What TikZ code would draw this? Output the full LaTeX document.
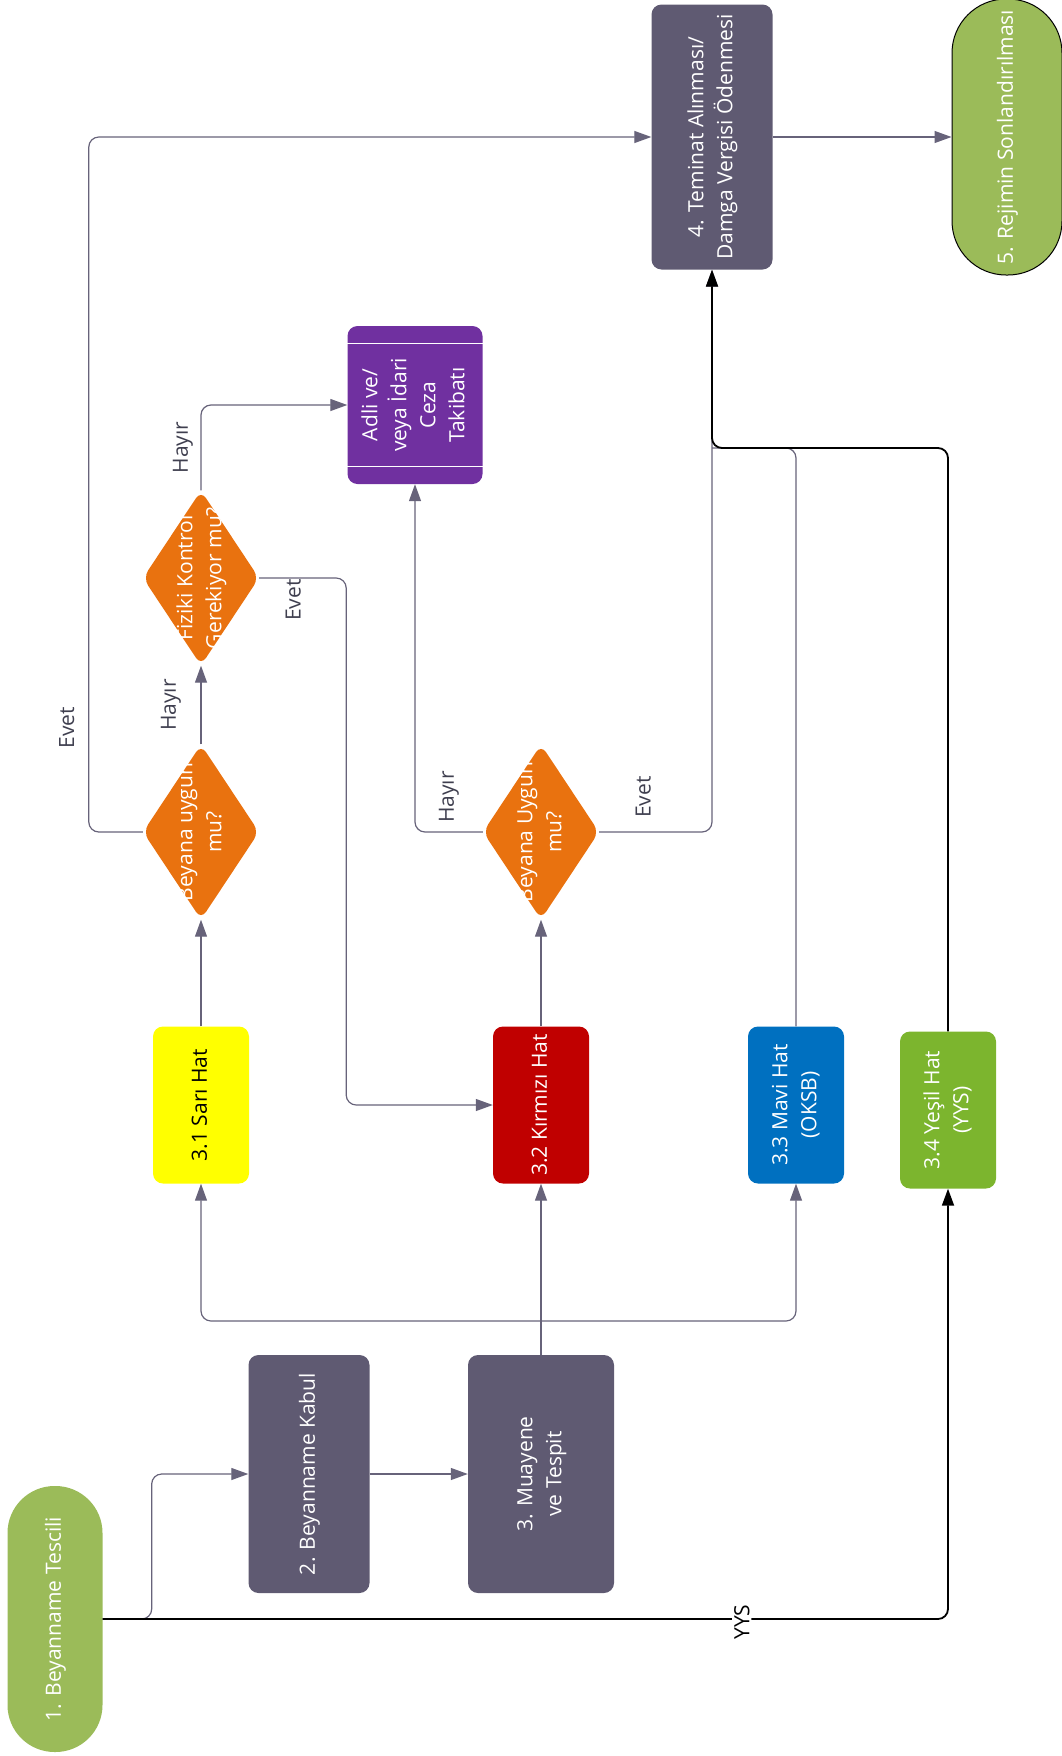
\documentclass[tikz,border=0pt]{standalone}
\usepackage{fontspec}
\setmainfont{Open Sans}
\usetikzlibrary{shapes.geometric,arrows.meta,calc}

\definecolor{termgreen}{HTML}{9BBB59}
\definecolor{procgray}{HTML}{5F5A72}
\definecolor{linegray}{HTML}{67637A}
\definecolor{lbltext}{HTML}{3F3F4F}
\definecolor{sariyellow}{HTML}{FFFF00}
\definecolor{hatred}{HTML}{C00000}
\definecolor{hatblue}{HTML}{0070C0}
\definecolor{hatgreen}{HTML}{7CB52E}
\definecolor{decorange}{HTML}{E9720F}
\definecolor{cezapurple}{HTML}{7030A0}

% rotated text, zero size, centred in its node
\newcommand\vtext[1]{\makebox[0pt]{\raisebox{-0.5\height}[0pt][0pt]{\rotatebox{90}{\begin{tabular}{@{}c@{}}#1\end{tabular}}}}}
\newcommand\rtext[1]{\rotatebox{90}{#1}}

\begin{document}
\begin{tikzpicture}[x=1pt, y=-1pt,
  font=\fontsize{21}{29}\selectfont,
  base/.style={inner sep=0pt, text=white},
  stadium/.style={base, rectangle, rounded corners=47pt, fill=termgreen, minimum width=95pt, minimum height=266pt},
  procbox/.style={base, rectangle, rounded corners=10pt, fill=procgray},
  hatbox/.style={base, rectangle, rounded corners=10pt, minimum width=96pt, minimum height=157pt},
  decision/.style={base, diamond, rounded corners=9pt, fill=decorange, minimum width=116pt, minimum height=175pt},
  flow/.style={draw=linegray, line width=1.2pt, rounded corners=10pt, -{Triangle[length=17pt,width=12pt]}},
  yysflow/.style={flow, draw=black, line width=1.8pt},
  lbl/.style={inner sep=0pt, text=lbltext}]

  \useasboundingbox (0,0) rectangle (1062,1756);
  \clip (0,0) rectangle (1062,1756);

  % nodes
  \node[stadium] (tescili) at (55,1619) {\vtext{1. Beyanname Tescili}};
  \node[procbox, minimum width=121pt, minimum height=238pt] (kabul) at (309,1474) {\vtext{2. Beyanname Kabul}};
  \node[procbox, minimum width=146pt, minimum height=238pt] (muayene) at (541,1474) {\vtext{3. Muayene\\ve Tespit}};

  \node[hatbox, fill=sariyellow, text=black] (sari) at (201,1105) {\vtext{3.1 Sarı Hat}};
  \node[hatbox, fill=hatred] (kirmizi) at (541,1105) {\vtext{3.2 Kırmızı Hat}};
  \node[hatbox, fill=hatblue] (mavi) at (796,1105) {\vtext{3.3 Mavi Hat\\(OKSB)}};
  \node[hatbox, fill=hatgreen] (yesil) at (948,1110) {\vtext{3.4 Yeşil Hat\\(YYS)}};

  \node[decision] (q1) at (201,832) {\vtext{Beyana uygun\\mu?}};
  \node[decision] (q2) at (201,578) {\vtext{Fiziki Kontrol\\Gerekiyor mu?}};
  \node[decision] (q3) at (541,832) {\vtext{Beyana Uygun\\mu?}};

  \node[procbox, fill=cezapurple, minimum width=135pt, minimum height=158pt] (ceza) at (415,405) {\vtext{Adli ve/\\veya İdari\\Ceza\\Takibatı}};
  \draw[white, line width=0.8pt] ($(ceza.north west)+(0,18)$) -- ($(ceza.north east)+(0,18)$);
  \draw[white, line width=0.8pt] ($(ceza.south west)+(0,-18)$) -- ($(ceza.south east)+(0,-18)$);

  \node[procbox, minimum width=121pt, minimum height=265pt] (teminat) at (712,137) {\vtext{4. Teminat Alınması/\\Damga Vergisi Ödenmesi}};
  \node[stadium, draw=black, line width=1pt, rounded corners=54pt, minimum width=110pt, minimum height=276pt] (rejim) at (1007,137) {\vtext{5. Rejimin Sonlandırılması}};

  \coordinate (fork) at (541,1321);
  \coordinate (merge) at (712,448);

  % connectors
  \draw[flow] (tescili.east) -- ++(49,0) |- (kabul.west);
  \draw[flow] (kabul.east) -- (muayene.west);
  \draw[flow] (muayene.north) -- (kirmizi.south);
  \draw[flow] (fork) -| (sari.south);
  \draw[flow] (fork) -| (mavi.south);

  \draw[flow] (sari.north) -- (q1.south);
  \draw[flow] (kirmizi.north) -- (q3.south);

  \draw[flow] (q1.north) -- node[lbl, xshift=-30pt] (lblq1h) {\rtext{Hayır}} (q2.south);
  \draw[flow] (q1.west) -- ++(-54,0) |- node[lbl, pos=0.075, xshift=-22pt] (lblq1e) {\rtext{Evet}} (teminat.west);
  \draw[flow] (q2.north) |- node[lbl, pos=0.25, xshift=-18pt] (lblq2h) {\rtext{Hayır}} (ceza.west);
  \draw[flow] (q2.east) -- node[lbl, pos=0.39, yshift=-22pt] (lblq2e) {\rtext{Evet}} ++(87,0) |- (kirmizi.west);
  \draw[flow] (q3.west) -| node[lbl, pos=0.25, yshift=35pt] (lblq3h) {\rtext{Hayır}} (ceza.south);
  \draw[flow] (q3.east) -| node[lbl, pos=0.195, yshift=35pt] (lblq3e) {\rtext{Evet}} (teminat.south);

  \draw[flow, -] (mavi.north) |- (merge);
  \draw[yysflow] (yesil.north) |- (merge) -- (teminat.south);
  \draw[yysflow] (tescili.east) -| node[lbl, pos=0.378, yshift=-3pt, fill=white, inner sep=2pt, text=black] (lblyys) {\rtext{YYS}} (yesil.south);

  \draw[flow] (teminat.east) -- (rejim.west);

\end{tikzpicture}
\end{document}
